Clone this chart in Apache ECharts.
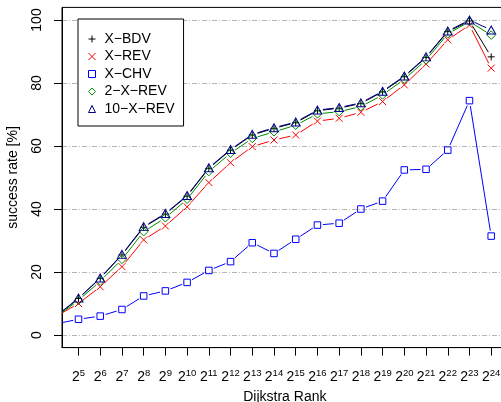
<!DOCTYPE html>
<html><head><meta charset="utf-8">
<script src="https://cdn.jsdelivr.net/npm/echarts@6/dist/echarts.min.js"></script>
<style>html,body{margin:0;padding:0;background:#fff}#c{width:501px;height:402px}</style>
</head><body><div id="c"></div>
<script>
// x = exponent of the Dijkstra rank (2^x)
const exponents = [4,5,6,7,8,9,10,11,12,13,14,15,16,17,18,19,20,21,22,23,24];
const tickExponents = [5,6,7,8,9,10,11,12,13,14,15,16,17,18,19,20,21,22,23,24];
const yTicks = [0,20,40,60,80,100];

const xBDV   = [6.1,11.6,18.0,25.4,34.2,38.4,44.1,52.9,58.7,63.5,65.6,67.4,71.2,72.0,73.5,77.2,82.0,88.1,96.3,99.7,88.3];
const xREV   = [6.0,10.0,15.3,21.7,30.2,34.6,40.7,48.4,54.7,59.8,61.9,63.5,67.9,68.8,70.7,74.1,79.4,86.0,93.7,98.4,84.7];
const xCHV   = [3.6,5.0,6.0,8.1,12.4,14.0,16.7,20.5,23.3,29.3,25.9,30.4,34.9,35.5,40.0,42.5,52.4,52.6,58.7,74.4,31.4];
const x2REV  = [5.9,11.0,17.1,24.0,32.8,37.2,43.1,51.9,57.7,62.4,64.5,66.6,70.2,70.9,72.5,76.2,81.2,87.3,95.6,99.5,95.2];
const x10REV = [6.2,11.7,18.1,25.6,34.4,38.6,44.3,53.1,58.9,63.7,65.8,67.6,71.4,72.2,73.7,77.4,82.2,88.3,96.5,100.0,96.8];

const seriesNames = ['X\u2212BDV','X\u2212REV','X\u2212CHV','2\u2212X\u2212REV','10\u2212X\u2212REV'];
const seriesValues = [xBDV, xREV, xCHV, x2REV, x10REV];
const seriesColors = ['#000000','#ff0000','#0000ff','#008b00','#00008b'];
const seriesSymbols = [
  'path://M0,5L10,5M5,0L5,10',
  'path://M0,0L10,10M0,10L10,0',
  'rect',
  'diamond',
  'triangle'
];
const seriesSymbolSizes = [7, 7, 6.5, [8.5,8.5], [9,8]];

const FONT = 'Liberation Sans, Arial, sans-serif';
const GAP = 5.5;

function segRender(color){
  return function(params, api){
    const a = api.coord([api.value(0), api.value(1)]);
    const b = api.coord([api.value(2), api.value(3)]);
    const dx = b[0]-a[0], dy = b[1]-a[1];
    const L = Math.sqrt(dx*dx+dy*dy);
    if (L <= 2*GAP) return null;
    const ux = dx/L, uy = dy/L;
    return {type:'line', shape:{x1:a[0]+ux*GAP, y1:a[1]+uy*GAP, x2:b[0]-ux*GAP, y2:b[1]-uy*GAP},
      style:{stroke:color, lineWidth:1}};
  };
}

const series = [];
// grid lines
series.push({
  type:'custom', name:'grid', silent:true, z:0,
  data: yTicks.map(v=>[tickExponents[0], v]),
  encode:{x:0,y:1},
  renderItem: function(params, api){
    const cs = params.coordSys;
    const y = Math.round(api.coord([api.value(0), api.value(1)])[1]) + 0.5;
    return {type:'line', shape:{x1:cs.x, y1:y, x2:cs.x+cs.width, y2:y},
      style:{stroke:'#b5b5b5', lineWidth:1, lineDash:[5,2,1,2]}};
  }
});
seriesNames.forEach((name, i) => {
  const vals = seriesValues[i];
  const segs = [];
  for (let k=0;k<exponents.length-1;k++) segs.push([exponents[k], vals[k], exponents[k+1], vals[k+1]]);
  series.push({
    type:'custom', name: name+'_line', silent:true, clip:true, z:2+i,
    data: segs, encode:{x:[0,2], y:[1,3]},
    renderItem: segRender(seriesColors[i])
  });
  series.push({
    type:'scatter', name: name, z:2+i, clip:true, silent:true,
    symbol: seriesSymbols[i], symbolSize: seriesSymbolSizes[i],
    itemStyle:{color:'none', borderColor:seriesColors[i], borderWidth:1, opacity:1},
    data: exponents.map((e,k)=>[e, vals[k]])
  });
});

const chart = echarts.init(document.getElementById('c'), null, {renderer:'canvas'});
chart.setOption({
  animation:false,
  backgroundColor:'#ffffff',
  textStyle:{fontFamily:FONT},
  grid:{left:62, top:7.4, right:-6.7, bottom:54.4, show:true, borderColor:'#000', borderWidth:1,
        backgroundColor:'transparent', containLabel:false, outerBoundsMode:'none'},
  legend:{
    orient:'vertical', left:78, top:19,
    data: seriesNames.map((n,i)=>({name:n, icon: seriesSymbols[i],
      itemStyle:{color:'rgba(0,0,0,0)', borderColor:seriesColors[i], borderWidth:1}})),
    itemWidth:7, itemHeight:7, itemGap:3.5,
    padding:[13,9,10,10],
    backgroundColor:'#fff', borderColor:'#000', borderWidth:1, borderRadius:0,
    selectedMode:false,
    textStyle:{fontFamily:FONT, fontSize:14, color:'#000', padding:[0,0,0,4]}
  },
  xAxis:{
    type:'value', min:4.24, max:24.76,
    name:'Dijkstra Rank', nameLocation:'middle', nameGap:38.5,
    nameTextStyle:{fontFamily:FONT, fontSize:14, color:'#000'},
    axisLine:{show:true, onZero:false, lineStyle:{color:'#000', width:1}},
    axisTick:{show:true, inside:false, length:8, customValues: tickExponents, lineStyle:{color:'#000'}},
    axisLabel:{show:true, margin:20.5, customValues: tickExponents,
      formatter: v => '{b|2}{s|' + v + '}',
      rich:{ b:{fontFamily:FONT, fontSize:14, color:'#000', lineHeight:16, verticalAlign:'bottom'},
             s:{fontFamily:FONT, fontSize:9.5, color:'#000', lineHeight:16, verticalAlign:'top', padding:[0,0,7,0]} }
    },
    splitLine:{show:false}
  },
  yAxis:{
    type:'value', min:-4, max:104,
    name:'success rate [%]', nameLocation:'middle', nameGap:42, nameRotate:90,
    nameTextStyle:{fontFamily:FONT, fontSize:14, color:'#000'},
    axisLine:{show:true, onZero:false, lineStyle:{color:'#000', width:1}},
    axisTick:{show:true, inside:false, length:8, customValues: yTicks, lineStyle:{color:'#000'}},
    axisLabel:{show:true, rotate:90, margin:18, customValues: yTicks, fontFamily:FONT, fontSize:14, color:'#000'},
    splitLine:{show:false}
  },
  series: series
});
</script>
</body></html>
